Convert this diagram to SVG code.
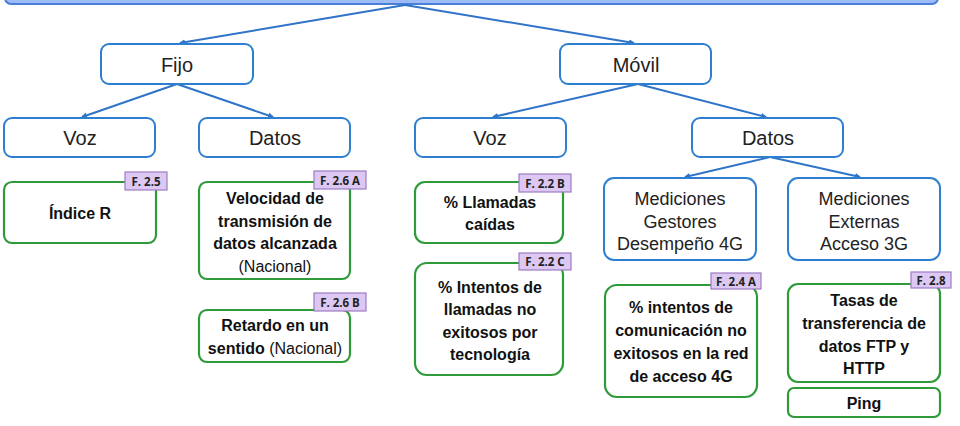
<svg xmlns="http://www.w3.org/2000/svg" width="960" height="426" viewBox="0 0 960 426">
<defs>
<marker id="ah" markerWidth="6" markerHeight="6" refX="5" refY="3" orient="auto" markerUnits="userSpaceOnUse">
<path d="M0,0 L6,3 L0,6 Z" fill="#2f74c8"/>
</marker>
<style>
.bb{fill:#fff;stroke:#2f7fd0;stroke-width:2}
.gb{fill:#fff;stroke:#2e9a3a;stroke-width:2.2}
.bt{font-family:"Liberation Sans",Arial,sans-serif;font-size:20px;fill:#222;text-anchor:middle}
.mt{font-family:"Liberation Sans",Arial,sans-serif;font-size:18px;fill:#222;text-anchor:middle}
.gt{font-family:"Liberation Sans",Arial,sans-serif;font-size:16px;font-weight:bold;fill:#111;text-anchor:middle}
.nt{font-weight:normal}
.tg{fill:#dcc8f2;stroke:#9b7cc4;stroke-width:1.2}
.tt{font-family:"Open Sans","Liberation Sans",Arial,sans-serif;font-size:11.5px;font-weight:bold;fill:#222;text-anchor:middle}
.cn{stroke:#2f74c8;stroke-width:2;fill:none;marker-end:url(#ah)}
</style>
</defs>
<rect width="960" height="426" fill="#fff"/>
<g id="root"><rect x="5" y="-12" width="933" height="16" rx="6" fill="#9dbcf5" stroke="#4a7fd8" stroke-width="2"/></g>
<g id="connectors">
<line class="cn" x1="405" y1="5" x2="180" y2="43"/>
<line class="cn" x1="405" y1="5" x2="634" y2="43"/>
<line class="cn" x1="177" y1="84" x2="82" y2="117"/>
<line class="cn" x1="177" y1="84" x2="273" y2="117"/>
<line class="cn" x1="638" y1="84" x2="493" y2="117"/>
<line class="cn" x1="638" y1="84" x2="766" y2="117"/>
<line class="cn" x1="770" y1="157" x2="685" y2="177"/>
<line class="cn" x1="770" y1="157" x2="860" y2="177"/>
</g>
<g id="fijo"><rect class="bb" x="101" y="44" width="152" height="40" rx="8"/><text class="bt" x="177" y="72">Fijo</text></g>
<g id="movil"><rect class="bb" x="560" y="44" width="151" height="40" rx="8"/><text class="bt" x="636" y="72">Móvil</text></g>
<g id="voz-fijo"><rect class="bb" x="4" y="118" width="151" height="39" rx="8"/><text class="bt" x="80" y="145">Voz</text></g>
<g id="datos-fijo"><rect class="bb" x="199" y="118" width="151" height="39" rx="8"/><text class="bt" x="275" y="145">Datos</text></g>
<g id="voz-movil"><rect class="bb" x="415" y="118" width="151" height="39" rx="8"/><text class="bt" x="490" y="145">Voz</text></g>
<g id="datos-movil"><rect class="bb" x="692" y="118" width="151" height="39" rx="8"/><text class="bt" x="768" y="145">Datos</text></g>
<g id="med-gestores"><rect class="bb" x="604" y="178" width="152" height="82" rx="10"/>
<text class="mt" x="680" y="205">Mediciones</text><text class="mt" x="680" y="228">Gestores</text><text class="mt" x="680" y="250">Desempeño 4G</text></g>
<g id="med-externas"><rect class="bb" x="788" y="178" width="152" height="82" rx="10"/>
<text class="mt" x="864" y="205">Mediciones</text><text class="mt" x="864" y="228">Externas</text><text class="mt" x="864" y="250">Acceso 3G</text></g>

<g id="indice-r"><rect class="gb" x="4" y="182" width="152" height="61" rx="8"/><text class="gt" x="80" y="219">Índice R</text>
<rect class="tg" x="125" y="172" width="42" height="18"/><text class="tt" x="146" y="185.5">F. 2.5</text></g>
<g id="velocidad"><rect class="gb" x="199" y="182" width="151" height="97" rx="8"/>
<text class="gt" x="275" y="204">Velocidad de</text><text class="gt" x="275" y="227">transmisión de</text><text class="gt" x="275" y="249">datos alcanzada</text><text class="gt nt" x="275" y="272">(Nacional)</text>
<rect class="tg" x="314" y="171" width="52" height="18"/><text class="tt" x="340" y="184.5">F. 2.6 A</text></g>
<g id="retardo"><rect class="gb" x="199" y="310" width="151" height="52" rx="8"/>
<text class="gt" x="275" y="331">Retardo en un</text><text class="gt" x="275" y="354">sentido <tspan class="nt">(Nacional)</tspan></text>
<rect class="tg" x="314" y="293" width="52" height="18"/><text class="tt" x="340" y="306.5">F. 2.6 B</text></g>
<g id="llamadas-caidas"><rect class="gb" x="415" y="182" width="148" height="61" rx="10"/>
<text class="gt" x="490" y="208">% Llamadas</text><text class="gt" x="490" y="230">caídas</text>
<rect class="tg" x="519" y="174" width="52" height="18"/><text class="tt" x="545" y="187.5">F. 2.2 B</text></g>
<g id="intentos-llamadas"><rect class="gb" x="415" y="263" width="148" height="112" rx="12"/>
<text class="gt" x="490" y="293">% Intentos de</text><text class="gt" x="490" y="315">llamadas no</text><text class="gt" x="490" y="338">exitosos por</text><text class="gt" x="490" y="360">tecnología</text>
<rect class="tg" x="519" y="253" width="52" height="17"/><text class="tt" x="545" y="266">F. 2.2 C</text></g>
<g id="intentos-comunicacion"><rect class="gb" x="605" y="285" width="152" height="112" rx="12"/>
<text class="gt" x="681" y="313">% intentos de</text><text class="gt" x="681" y="336">comunicación no</text><text class="gt" x="681" y="359">exitosos en la red</text><text class="gt" x="681" y="382">de acceso 4G</text>
<rect class="tg" x="711" y="273" width="50" height="16"/><text class="tt" x="736" y="285.5">F. 2.4 A</text></g>
<g id="tasas"><rect class="gb" x="788" y="284" width="152" height="98" rx="10"/>
<text class="gt" x="864" y="306">Tasas de</text><text class="gt" x="864" y="329">transferencia de</text><text class="gt" x="864" y="352">datos FTP y</text><text class="gt" x="864" y="374">HTTP</text>
<rect class="tg" x="911" y="272" width="40" height="16"/><text class="tt" x="931" y="284.5">F. 2.8</text></g>
<g id="ping"><rect class="gb" x="788" y="388" width="152" height="29" rx="6"/><text class="gt" x="864" y="409">Ping</text></g>
</svg>
